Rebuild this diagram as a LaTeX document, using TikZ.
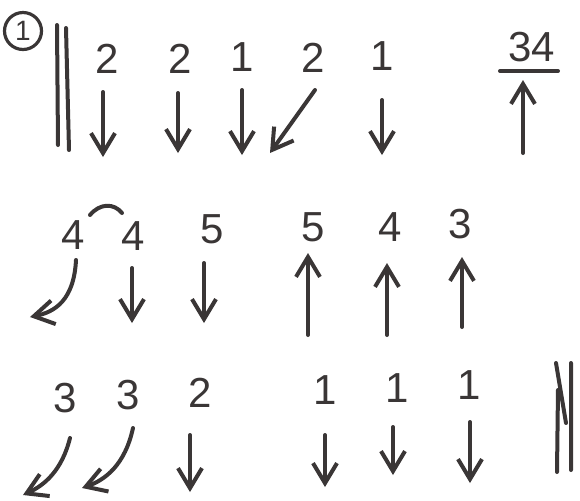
\documentclass[tikz,border=0pt]{standalone}
\usepackage{fontspec}
\setmainfont{Liberation Sans}
\usetikzlibrary{arrows.meta}
\definecolor{Ink}{HTML}{3A3636}
\tikzset{pen/.style={draw=Ink,line width=2pt,line cap=round,line join=round},arr/.style={pen,-{Straight Barb[length=10pt,width=12pt]}},digit/.style={text=Ink,inner sep=0pt,font=\fontsize{21}{21}\selectfont},ring/.style={circle,draw=Ink,line width=1.6pt,minimum size=18.5pt,inner sep=0pt,text=Ink,font=\fontsize{14}{14}\selectfont}}
\begin{document}
\begin{tikzpicture}[x=.5pt,y=-.5pt]
      \useasboundingbox (0,0) rectangle (580,500);
      \node[ring](num) at (23,31){1};
      \draw[pen](57,25)--(58,145) (66,28)--(69,150);
      % first line
      \node[digit](a1) at (107,59){2};
      \node[digit](a2) at (180,59){2};
      \node[digit](a3) at (242,57){1};
      \node[digit](a4) at (313,58){2};
      \node[digit](a5) at (382,56){1};
      \node[digit](total) at (532,47){34};
      \draw[pen](500,71)--(558,71);
      \draw[arr](103,92)--(103,157);\draw[arr](178,93)--(178,153);\draw[arr](242,90)--(242,155);
      \draw[arr](315,90)--(270,153);\draw[arr](382,100)--(382,155);\draw[arr](523,153)--(523,80);
      % second line
      \node[digit](b1) at (73,235){4};
      \node[digit](b2) at (133,236){4};
      \node[digit](b3) at (212,229){5};
      \node[digit](b4) at (313,227){5};
      \node[digit](b5) at (390,227){4};
      \node[digit](b6) at (460,224){3};
      \draw[pen](90,215) .. controls (100,203) and (114,203) .. (122,213);
      \draw[arr](76,260) .. controls (74,300) and (55,312) .. (30,317);
      \draw[arr](132,268)--(132,323);\draw[arr](204,263)--(204,323);
      \draw[arr](308,335)--(308,253);\draw[arr](387,335)--(387,263);\draw[arr](462,327)--(462,257);
      % third line
      \node[digit](c1) at (65,398){3};
      \node[digit](c2) at (128,395){3};
      \node[digit](c3) at (200,393){2};
      \node[digit](c4) at (325,390){1};
      \node[digit](c5) at (397,388){1};
      \node[digit](c6) at (469,385){1};
      \draw[arr](70,438) .. controls (62,470) and (45,485) .. (23,495);
      \draw[arr](133,428) .. controls (125,465) and (105,480) .. (82,488);
      \draw[arr](190,435)--(190,492);\draw[arr](325,435)--(325,487);
      \draw[arr](393,427)--(393,475);\draw[arr](470,422)--(470,483);
      \draw[pen](556,363)--(566,423) (558,390)--(557,472) (571,363)--(571,470);
    \end{tikzpicture}
\end{document}
